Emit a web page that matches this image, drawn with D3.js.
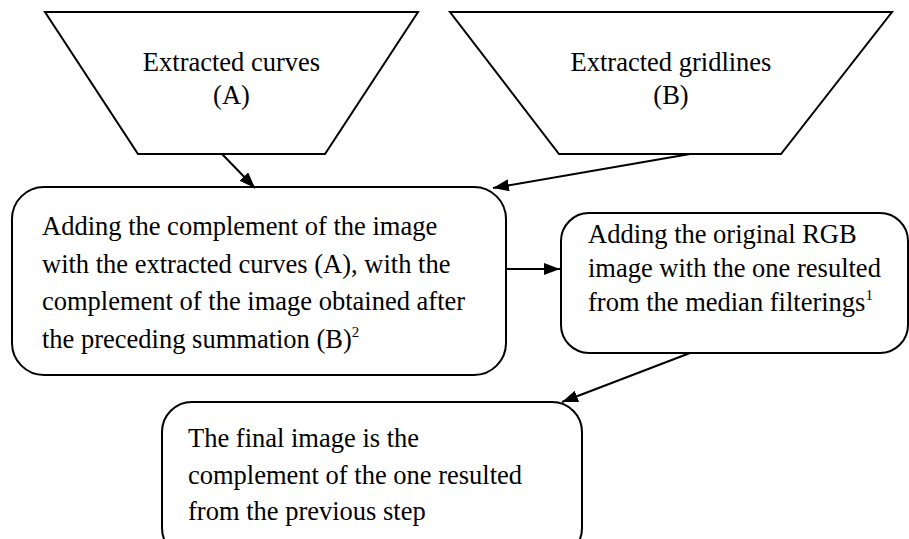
<!DOCTYPE html>
<html>
<head>
<meta charset="utf-8">
<script src="https://cdn.jsdelivr.net/npm/d3@7"></script>
<style>
  html, body { margin: 0; padding: 0; background: #fff; }
  svg { display: block; }
  text { font-family: "Liberation Serif", "Times New Roman", serif; fill: #000; }
</style>
</head>
<body>
<svg id="chart" width="909" height="539"></svg>
<script>
// node labels (one entry per line, "^" marks a superscript)
const inputLabels = [
  ["Extracted curves", "(A)"],
  ["Extracted gridlines", "(B)"]
];
const stepLabels = [
  ["Adding the complement of the image", "with the extracted curves (A), with the",
   "complement of the image obtained after", "the preceding summation (B)^2"],
  ["Adding the original RGB", "image with the one resulted", "from the median filterings^1"],
  ["The final image is the", "complement of the one resulted", "from the previous step"]
];
// arrows: from -> to, by node id
const edges = [["inA", "sum"], ["inB", "sum"], ["sum", "add"], ["add", "final"]];

// layout
const trapezoids = [
  { id: "inA", top: [45, 418], bottom: [138, 325], y0: 12, y1: 154 },
  { id: "inB", top: [450, 892], bottom: [559, 781], y0: 12, y1: 154 }
];
const boxes = [
  { id: "sum", x: 12, y: 187, w: 494, h: 188, r: 32, tx: 42, ty: 235, lh: 37.5 },
  { id: "add", x: 561, y: 213, w: 347, h: 140, r: 28, tx: 588, ty: 243, lh: 34 },
  { id: "final", x: 162, y: 402, w: 420, h: 156, r: 30, tx: 188, ty: 447, lh: 36.5 }
];
const arrowPts = {
  "inA-sum": [[222, 154], [255, 188]],
  "inB-sum": [[690, 154], [493, 188]],
  "sum-add": [[506, 269], [560, 269]],
  "add-final": [[690, 353], [562, 402]]
};

const fontSize = 26.5;
const svg = d3.select("#chart");

svg.append("defs").append("marker")
  .attr("id", "head")
  .attr("markerUnits", "userSpaceOnUse")
  .attr("viewBox", "0 0 16 12")
  .attr("refX", 16).attr("refY", 6)
  .attr("markerWidth", 16).attr("markerHeight", 12)
  .attr("orient", "auto")
  .append("path").attr("d", "M0,0 L16,6 L0,12 Z").attr("fill", "#000");

function writeLines(g, lines, x, y, lh, anchor) {
  lines.forEach((ln, i) => {
    const t = g.append("text")
      .attr("x", x).attr("y", y + i * lh)
      .attr("font-size", fontSize)
      .attr("text-anchor", anchor);
    const parts = ln.split("^");
    t.append("tspan").text(parts[0]);
    if (parts[1]) {
      t.append("tspan").attr("dy", -11).attr("font-size", 15).text(parts[1]);
    }
  });
}

// input trapezoids
const line = d3.line();
trapezoids.forEach((d, i) => {
  const g = svg.append("g");
  g.append("path")
    .attr("d", line([[d.top[0], d.y0], [d.top[1], d.y0], [d.bottom[1], d.y1], [d.bottom[0], d.y1]]) + "Z")
    .attr("fill", "#fff").attr("stroke", "#000").attr("stroke-width", 2);
  writeLines(g, inputLabels[i], (d.top[0] + d.top[1]) / 2, 71, 33, "middle");
});

// process boxes
boxes.forEach((d, i) => {
  const g = svg.append("g");
  g.append("rect")
    .attr("x", d.x).attr("y", d.y).attr("width", d.w).attr("height", d.h)
    .attr("rx", d.r).attr("ry", d.r)
    .attr("fill", "#fff").attr("stroke", "#000").attr("stroke-width", 2);
  writeLines(g, stepLabels[i], d.tx, d.ty, d.lh, "start");
});

// arrows
svg.append("g").selectAll("path")
  .data(edges)
  .join("path")
  .attr("d", e => line(arrowPts[e[0] + "-" + e[1]]))
  .attr("fill", "none").attr("stroke", "#000").attr("stroke-width", 2)
  .attr("marker-end", "url(#head)");
</script>
</body>
</html>
